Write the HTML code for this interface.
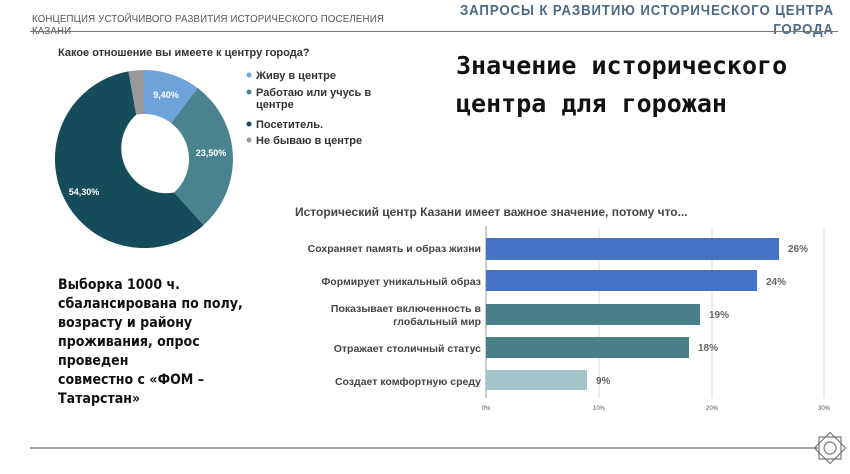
<!DOCTYPE html>
<html><head><meta charset="utf-8"><style>
body{margin:0;width:850px;height:474px;background:#fff;position:relative;overflow:hidden;font-family:"Liberation Sans","DejaVu Sans",sans-serif;color:#333}
.a{position:absolute;white-space:nowrap}
</style></head><body>
<div class="a" style="left:32px;top:13px;font-size:10.5px;color:#555;line-height:12px;letter-spacing:0.2px;transform:scaleX(0.92);transform-origin:left">КОНЦЕПЦИЯ УСТОЙЧИВОГО РАЗВИТИЯ ИСТОРИЧЕСКОГО ПОСЕЛЕНИЯ<br>КАЗАНИ</div>
<div class="a" style="right:16px;top:2px;text-align:right;font-size:14.5px;font-weight:bold;color:#4a6a86;line-height:19px;letter-spacing:1px;transform:scaleX(0.91);transform-origin:right">ЗАПРОСЫ К РАЗВИТИЮ ИСТОРИЧЕСКОГО ЦЕНТРА<br>ГОРОДА</div>
<div class="a" style="left:30px;top:31px;width:808px;height:1px;background:#777"></div>
<div class="a" style="left:58px;top:47px;font-size:11px;font-weight:bold;color:#333">Какое отношение вы имеете к центру города?</div>
<div class="a" style="left:456px;top:47px;font-size:25px;font-weight:bold;font-family:'DejaVu Sans Mono',monospace;color:#111;line-height:38px">Значение исторического<br>центра для горожан</div>
<svg class="a" style="left:0;top:0" width="850" height="474">
<path d="M144 70 A89 89 0 0 1 197.6 88 L171.1 123.1 A45 45 0 0 0 144 114 Z" fill="#6fa3dc"/>
<path d="M197.6 88 A89 89 0 0 1 203.6 225.1 L174.1 192.5 A45 45 0 0 0 171.1 123.1 Z" fill="#4a8390"/>
<path d="M203.6 225.1 A89 89 0 1 1 128.5 71.4 L136.2 114.7 A45 45 0 0 0 174.1 192.5 Z" fill="#164b5b"/>
<path d="M128.5 71.4 A89 89 0 0 1 144 70 L144 114 A45 45 0 0 0 136.2 114.7 Z" fill="#9a9a9a"/>
<text x="166" y="98" font-size="9" fill="#fff" font-weight="bold" text-anchor="middle">9,40%</text>
<text x="211" y="156" font-size="9" fill="#fff" font-weight="bold" text-anchor="middle">23,50%</text>
<text x="84" y="195" font-size="9" fill="#fff" font-weight="bold" text-anchor="middle">54,30%</text>
<g font-size="11" font-weight="bold" fill="#333">
<circle cx="249" cy="75" r="2.5" fill="#6fa3dc"/><text x="256" y="79">Живу в центре</text>
<circle cx="249" cy="92" r="2.5" fill="#4a8390"/><text x="256" y="96">Работаю или учусь в</text><text x="256" y="108">центре</text>
<circle cx="249" cy="124" r="2.5" fill="#164b5b"/><text x="256" y="128">Посетитель.</text>
<circle cx="249" cy="140" r="2.5" fill="#9a9a9a"/><text x="256" y="144">Не бываю в центре</text>
</g>
<text x="295" y="216" font-size="12" font-weight="bold" fill="#444">Исторический центр Казани имеет важное значение, потому что...</text>
<g stroke="#ddd" stroke-width="1"><line x1="599" y1="228" x2="599" y2="398"/><line x1="712" y1="228" x2="712" y2="398"/><line x1="824" y1="228" x2="824" y2="398"/></g>
<line x1="486" y1="226" x2="486" y2="398" stroke="#999"/>
<rect x="486" y="238" width="293" height="22" fill="#4472c4"/>
<rect x="486" y="270" width="271" height="21" fill="#4472c4"/>
<rect x="486" y="304" width="214" height="21" fill="#4a7f8a"/>
<rect x="486" y="337" width="203" height="21" fill="#4a7f8a"/>
<rect x="486" y="370" width="101" height="20" fill="#a3c4c8"/>
<g font-size="10.5" font-weight="bold" fill="#444" text-anchor="end">
<text x="481" y="252">Сохраняет память и образ жизни</text>
<text x="481" y="285">Формирует уникальный образ</text>
<text x="481" y="312">Показывает включенность в</text>
<text x="481" y="325">глобальный мир</text>
<text x="481" y="352">Отражает столичный статус</text>
<text x="481" y="385">Создает комфортную среду</text>
</g>
<g font-size="10" font-weight="bold" fill="#666">
<text x="788" y="252">26%</text><text x="766" y="285">24%</text><text x="709" y="318">19%</text><text x="698" y="351">18%</text><text x="596" y="384">9%</text>
</g>
<g font-size="6" fill="#555" text-anchor="middle"><text x="486" y="410">0%</text><text x="599" y="410">10%</text><text x="712" y="410">20%</text><text x="824" y="410">30%</text></g>
<line x1="30" y1="448" x2="818" y2="448" stroke="#888" stroke-width="1.5"/>
<g transform="translate(830,448)" fill="none" stroke="#777" stroke-width="1.2"><rect x="-11" y="-11" width="22" height="22"/><rect x="-11" y="-11" width="22" height="22" transform="rotate(45)"/><circle r="6"/></g>
</svg>
<div class="a" style="left:58px;top:276px;font-size:14.5px;font-weight:bold;color:#111;line-height:19px;font-family:'DejaVu Sans',sans-serif;transform:scaleX(0.87);transform-origin:left">Выборка 1000 ч.<br>сбалансирована по полу,<br>возрасту и району<br>проживания, опрос<br>проведен<br>совместно с «ФОМ –<br>Татарстан»</div>
</body></html>
